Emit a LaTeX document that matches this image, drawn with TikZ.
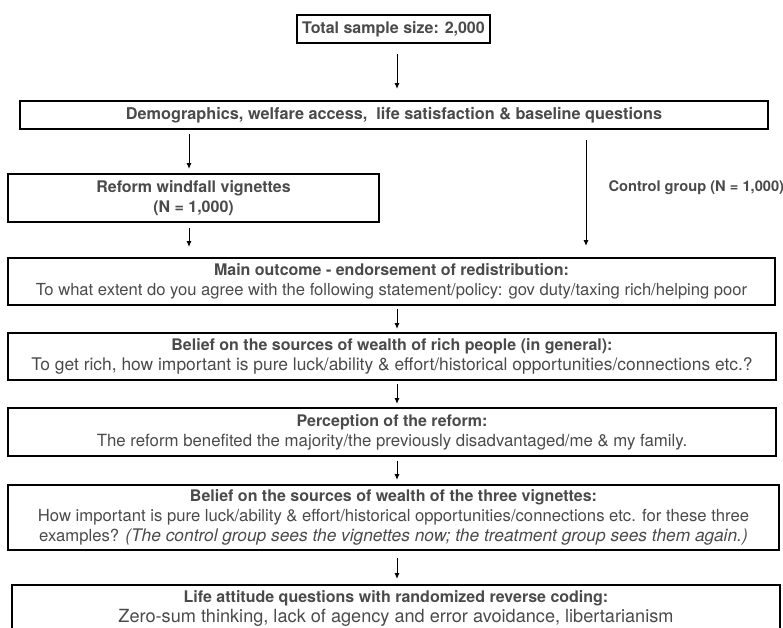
\documentclass[tikz,border=0pt]{standalone}
\usepackage{fontspec}
\setmainfont{TeX Gyre Heros}
\usetikzlibrary{calc,arrows.meta}

\newcommand{\sizedline}[2]{{\fontsize{#1}{15}\selectfont #2}}

\tikzset{every picture/.style={line width=0.75pt}}
\tikzset{
  stagebox/.style={draw=black, line width=1.5pt, rectangle, align=center, inner sep=0.75pt,
    text={rgb,255:red,74;green,74;blue,74}, font=\fontsize{12}{15}\selectfont},
  flow/.style={-{Latex[length=4.5pt,width=3.75pt]}, line width=0.75pt}
}

\begin{document}
\begin{tikzpicture}[x=0.75pt,y=0.75pt,yscale=-1,xscale=1]
	%set diagram left start at 0, and has height of 628
	\useasboundingbox (0,0) rectangle (783,628);
	\clip (0,0) rectangle (783,628);
	
	%Shape: Rectangle [sample]
	\node [stagebox, minimum width=144.75pt, minimum height=21pt] (sample) at (393.5,29) {\textbf{Total sample size: 2,000}};
	%Shape: Rectangle [baseline]
	\node [stagebox, minimum width=561pt, minimum height=21pt] (baseline) at (394,115) {\textbf{\sizedline{12.2}{Demographics, welfare access,\ \ life satisfaction \& baseline questions}}};
	%Shape: Rectangle [windfall]
	\node [stagebox, minimum width=278.25pt, minimum height=36pt] (windfall) at (193.5,198) {\textbf{Reform windfall vignettes}\\\textbf{(N = 1,000)}};
	%Shape: Rectangle [outcome]
	\node [stagebox, minimum width=575.25pt, minimum height=35.25pt] (outcome) at (391.5,281.5) {\textbf{Main outcome - endorsement of redistribution:}\\\sizedline{12.45}{To what extent do you agree with the following statement/policy: gov duty/taxing rich/helping poor}};
	%Shape: Rectangle [richbelief]
	\node [stagebox, minimum width=576pt, minimum height=35.25pt] (richbelief) at (392,356.5) {\textbf{Belief on the sources of wealth of rich people (in general):}\\\sizedline{13.05}{To get rich, how important is pure luck/ability \& effort/historical opportunities/connections etc.?}};
	%Shape: Rectangle [perception]
	\node [stagebox, minimum width=576pt, minimum height=36pt] (perception) at (392,432) {\textbf{Perception of the reform:}\\\sizedline{12.6}{The reform benefited the majority/the previously disadvantaged/me \& my family.}};
	%Shape: Rectangle [vigbelief]
	\node [stagebox, minimum width=578.25pt, minimum height=48.75pt] (vigbelief) at (393.5,517.5) {\textbf{Belief on the sources of wealth of the three vignettes:}\\\sizedline{12.5}{How important is pure luck/ability \& effort/historical opportunities/connections etc. for these three}\\\sizedline{12.5}{examples? }\sizedline{13}{\textit{(The control group sees the vignettes now; the treatment group sees them again.)}}};
	%Shape: Rectangle [attitude]
	\node [stagebox, minimum width=576pt, minimum height=35.25pt] (attitude) at (396,608.5) {\textbf{Life attitude questions with randomized reverse coding:}\\\sizedline{13.6}{Zero-sum thinking, lack of agency and error avoidance, libertarianism}};
	
	% Text Node
	\node [anchor=west, inner sep=0.75pt, text={rgb,255:red,74;green,74;blue,74}, font=\fontsize{11}{15}\selectfont] (control) at (607,188) {\textbf{Control group (N = 1,000)}};
	
	%Straight Lines
	\draw [flow] ($(sample.south)+(3.5,10)$) -- ($(baseline.north)+(3,-11)$);
	%Straight Lines
	\draw [flow] ($(baseline.south -| windfall.north)+(-4.5,4)$) -- ($(windfall.north)+(-4.5,-4)$);
	%Straight Lines
	\draw [flow] ($(baseline.south)+(192,10)$) -- ($(outcome.north)+(194.5,-11)$);
	%Straight Lines
	\draw [flow] ($(windfall.south)+(-4.5,5)$) -- ($(outcome.north -| windfall.south)+(-4.5,-10)$);
	%Straight Lines
	\draw [flow] ($(outcome.south)+(5.5,3)$) -- ($(richbelief.north)+(5,-3)$);
	%Straight Lines
	\draw [flow] ($(richbelief.south)+(5,3)$) -- ($(perception.north)+(5,-3)$);
	%Straight Lines
	\draw [flow] ($(perception.south)+(5,4)$) -- ($(vigbelief.north)+(3.5,-4)$);
	%Straight Lines
	\draw [flow] ($(vigbelief.south)+(3.5,7)$) -- ($(attitude.north)+(1,-5)$);
	
\end{tikzpicture}
\end{document}
